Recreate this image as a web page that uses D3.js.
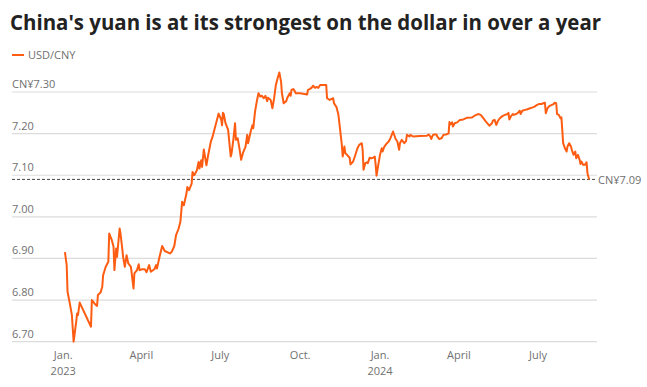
<!DOCTYPE html>
<html><head><meta charset="utf-8">
<script src="https://cdn.jsdelivr.net/npm/d3@7"></script>
<style>
html,body{margin:0;padding:0;background:#fff;}
svg{display:block;}
text{font-family:"Source Sans Pro","Open Sans","Noto Sans",sans-serif;}
</style></head>
<body><svg id="chart" width="647" height="387"></svg>
<script>
const title = "China's yuan is at its strongest on the dollar in over a year";
const seriesName = "USD/CNY";
const dates = [
"2023-01-03","2023-01-05","2023-01-06","2023-01-09","2023-01-11","2023-01-13","2023-01-16","2023-01-17","2023-01-18","2023-01-20",
"2023-02-02","2023-02-03","2023-02-06","2023-02-09","2023-02-10","2023-02-13","2023-02-15","2023-02-16","2023-02-19","2023-02-22",
"2023-02-23","2023-02-26","2023-02-28","2023-03-01","2023-03-03","2023-03-04","2023-03-07","2023-03-08","2023-03-10","2023-03-11",
"2023-03-13","2023-03-15","2023-03-17","2023-03-20","2023-03-23","2023-03-24","2023-03-27","2023-03-29","2023-03-30","2023-04-02",
"2023-04-05","2023-04-07","2023-04-10","2023-04-12","2023-04-16","2023-04-18","2023-04-19","2023-04-22","2023-04-25","2023-04-28",
"2023-05-04","2023-05-06","2023-05-09","2023-05-11","2023-05-14","2023-05-16","2023-05-17","2023-05-18","2023-05-20","2023-05-23",
"2023-05-24","2023-05-26","2023-05-29","2023-05-30","2023-06-01","2023-06-04","2023-06-06","2023-06-07","2023-06-09","2023-06-10",
"2023-06-12","2023-06-15","2023-06-17","2023-06-20","2023-06-22","2023-06-25","2023-06-29","2023-07-02","2023-07-03","2023-07-04",
"2023-07-05","2023-07-07","2023-07-10","2023-07-13","2023-07-14","2023-07-16","2023-07-18","2023-07-19","2023-07-21","2023-07-23",
"2023-07-25","2023-07-27","2023-07-30","2023-08-01","2023-08-02","2023-08-05","2023-08-07","2023-08-08","2023-08-10","2023-08-12",
"2023-08-14","2023-08-16","2023-08-18","2023-08-20","2023-08-22","2023-08-24","2023-08-25","2023-08-28","2023-08-30","2023-09-01",
"2023-09-03","2023-09-05","2023-09-07","2023-09-09","2023-09-10","2023-09-12","2023-09-15","2023-09-16","2023-09-19","2023-09-20",
"2023-09-21","2023-09-23","2023-09-24","2023-09-26","2023-10-01","2023-10-09","2023-10-10","2023-10-12","2023-10-14","2023-10-16",
"2023-10-18","2023-10-20","2023-10-22","2023-10-24","2023-10-31","2023-11-01","2023-11-04","2023-11-08","2023-11-09","2023-11-12",
"2023-11-14","2023-11-16","2023-11-18","2023-11-19","2023-11-21","2023-11-22","2023-11-24","2023-11-27","2023-11-28","2023-12-01",
"2023-12-03","2023-12-06","2023-12-08","2023-12-11","2023-12-12","2023-12-13","2023-12-15","2023-12-17","2023-12-18","2023-12-20",
"2023-12-22","2023-12-24","2023-12-26","2023-12-27","2023-12-28","2023-12-30","2024-01-01","2024-01-03","2024-01-04","2024-01-06",
"2024-01-09","2024-01-11","2024-01-13","2024-01-16","2024-01-17","2024-01-19","2024-01-21","2024-01-23","2024-01-24","2024-01-26",
"2024-01-29","2024-01-31","2024-02-01","2024-02-04","2024-02-05","2024-02-08","2024-02-16","2024-02-24","2024-02-26","2024-02-28",
"2024-02-29","2024-03-02","2024-03-04","2024-03-06","2024-03-07","2024-03-09","2024-03-12","2024-03-14","2024-03-17","2024-03-20",
"2024-03-21","2024-03-22","2024-03-24","2024-03-25","2024-03-27","2024-03-30","2024-04-02","2024-04-06","2024-04-10","2024-04-16",
"2024-04-19","2024-04-23","2024-04-26","2024-04-29","2024-05-02","2024-05-06","2024-05-09","2024-05-10","2024-05-12","2024-05-14",
"2024-05-16","2024-05-18","2024-05-21","2024-05-24","2024-05-27","2024-05-28","2024-05-29","2024-05-31","2024-06-02","2024-06-03",
"2024-06-06","2024-06-08","2024-06-10","2024-06-11","2024-06-13","2024-06-16","2024-06-18","2024-06-22","2024-06-25","2024-06-27",
"2024-06-30","2024-07-02","2024-07-05","2024-07-07","2024-07-09","2024-07-10","2024-07-12","2024-07-14","2024-07-17","2024-07-19",
"2024-07-20","2024-07-22","2024-07-23","2024-07-25","2024-07-27","2024-07-28","2024-07-30","2024-08-01","2024-08-03","2024-08-04",
"2024-08-06","2024-08-08","2024-08-09","2024-08-11","2024-08-13","2024-08-14","2024-08-16","2024-08-18","2024-08-19","2024-08-20",
"2024-08-22","2024-08-24","2024-08-26","2024-08-27","2024-08-29"
];
const values = [
6.915,6.884,6.820,6.788,6.764,6.700,6.748,6.768,6.764,6.794,
6.736,6.800,6.792,6.786,6.812,6.818,6.832,6.860,6.880,6.892,
6.960,6.944,6.928,6.872,6.924,6.904,6.972,6.960,6.924,6.904,
6.880,6.908,6.888,6.880,6.828,6.864,6.872,6.886,6.872,6.874,
6.874,6.867,6.884,6.868,6.874,6.884,6.876,6.904,6.930,6.918,
6.912,6.916,6.930,6.956,6.972,6.988,7.012,7.036,7.028,7.056,
7.072,7.064,7.080,7.108,7.100,7.112,7.132,7.116,7.136,7.120,
7.162,7.124,7.148,7.180,7.192,7.216,7.248,7.234,7.220,7.250,
7.247,7.225,7.209,7.145,7.153,7.185,7.225,7.185,7.189,7.165,
7.137,7.153,7.168,7.197,7.177,7.205,7.220,7.213,7.253,7.277,
7.297,7.289,7.291,7.285,7.291,7.278,7.286,7.281,7.261,7.285,
7.317,7.333,7.347,7.325,7.297,7.273,7.278,7.285,7.297,7.291,
7.305,7.307,7.305,7.297,7.297,7.294,7.305,7.307,7.310,7.315,
7.310,7.312,7.310,7.317,7.317,7.285,7.281,7.285,7.273,7.263,
7.246,7.210,7.173,7.145,7.169,7.153,7.149,7.142,7.126,7.133,
7.145,7.165,7.173,7.177,7.161,7.113,7.129,7.131,7.129,7.142,
7.141,7.142,7.145,7.125,7.099,7.125,7.149,7.165,7.157,7.169,
7.177,7.181,7.189,7.205,7.199,7.187,7.181,7.161,7.177,7.185,
7.177,7.182,7.197,7.193,7.197,7.193,7.194,7.195,7.198,7.193,
7.187,7.197,7.198,7.198,7.193,7.187,7.189,7.197,7.198,7.200,
7.228,7.222,7.227,7.217,7.225,7.227,7.233,7.234,7.238,7.239,
7.243,7.247,7.245,7.237,7.229,7.219,7.225,7.231,7.233,7.221,
7.231,7.237,7.242,7.245,7.247,7.250,7.234,7.242,7.247,7.245,
7.247,7.250,7.255,7.247,7.255,7.257,7.258,7.261,7.263,7.265,
7.269,7.271,7.271,7.273,7.274,7.249,7.261,7.266,7.269,7.271,
7.274,7.273,7.247,7.245,7.237,7.239,7.177,7.165,7.157,7.169,
7.177,7.169,7.161,7.149,7.157,7.141,7.149,7.137,7.127,7.133,
7.125,7.125,7.131,7.105,7.090
];
const yTicks = [6.70, 6.80, 6.90, 7.00, 7.10, 7.20, 7.30];
const xTickDates = ["2023-01-01","2023-04-01","2023-07-01","2023-10-01","2024-01-01","2024-04-01","2024-07-01"];
const xTickLabels = ["Jan.","April","July","Oct.","Jan.","April","July"];
const xTickYears = ["2023","","","","2024","",""];
const xDomain = ["2022-11-03","2024-09-07"];

(function(){
const parse = d3.utcParse("%Y-%m-%d");
const data = dates.map((d,i)=>({date:parse(d), value:values[i]}));

const plotLeft = 12, plotRight = 597, plotTop = 92, plotBottom = 341.7;
const lineColor = "#fd5d12";
const textColor = "#707070";
const fs = 11;

const svg = d3.select("#chart");
const x = d3.scaleUtc().domain(xDomain.map(parse)).range([plotLeft, plotRight]);
const y = d3.scaleLinear().domain([6.70, 7.30]).range([plotBottom, plotTop]);

// Title
const t = svg.append("text").attr("x", 10).attr("y", 30)
  .attr("font-size", 22).attr("font-weight", 700).attr("fill", "#222")
  .text(title);
t.attr("textLength", 591).attr("lengthAdjust", "spacingAndGlyphs");

// Legend
svg.append("line").attr("x1", 12).attr("x2", 24).attr("y1", 55).attr("y2", 55)
  .attr("stroke", lineColor).attr("stroke-width", 2);
svg.append("text").attr("x", 28).attr("y", 59).attr("font-size", fs)
  .attr("fill", textColor).text(seriesName);

// Grid
const g = svg.append("g");
g.selectAll("line.grid").data(yTicks).join("line").attr("class","grid")
  .attr("x1", plotLeft).attr("x2", plotRight)
  .attr("y1", d=>y(d)).attr("y2", d=>y(d))
  .attr("stroke", "#dcdcdc").attr("stroke-width", 1.2);
g.selectAll("text.ylab").data(yTicks).join("text").attr("class","ylab")
  .attr("x", plotLeft).attr("y", d=>y(d)-4)
  .attr("font-size", fs).attr("fill", textColor)
  .text((d,i)=> i===yTicks.length-1 ? "CN¥"+d.toFixed(2) : d.toFixed(2));

// X labels
const xg = svg.append("g");
xTickDates.forEach((d,i)=>{
  const xx = x(parse(d));
  xg.append("text").attr("x", xx).attr("y", 359).attr("text-anchor","middle")
    .attr("font-size", fs).attr("fill", textColor).text(xTickLabels[i]);
  if (xTickYears[i]) xg.append("text").attr("x", xx).attr("y", 375).attr("text-anchor","middle")
    .attr("font-size", fs).attr("fill", textColor).text(xTickYears[i]);
});

// Last value dashed line
const last = data[data.length-1];
svg.append("line").attr("x1", plotLeft).attr("x2", plotRight)
  .attr("y1", y(last.value)).attr("y2", y(last.value))
  .attr("stroke", "#444").attr("stroke-width", 1).attr("stroke-dasharray", "3,2");
svg.append("text").attr("x", plotRight+1).attr("y", y(last.value)+5)
  .attr("font-size", fs).attr("fill", textColor).text("CN¥"+last.value.toFixed(2));

// Line
const line = d3.line().x(d=>x(d.date)).y(d=>y(d.value));
svg.append("path").datum(data).attr("d", line)
  .attr("fill","none").attr("stroke", lineColor).attr("stroke-width", 2)
  .attr("stroke-linejoin","round");
})();
</script></body></html>
